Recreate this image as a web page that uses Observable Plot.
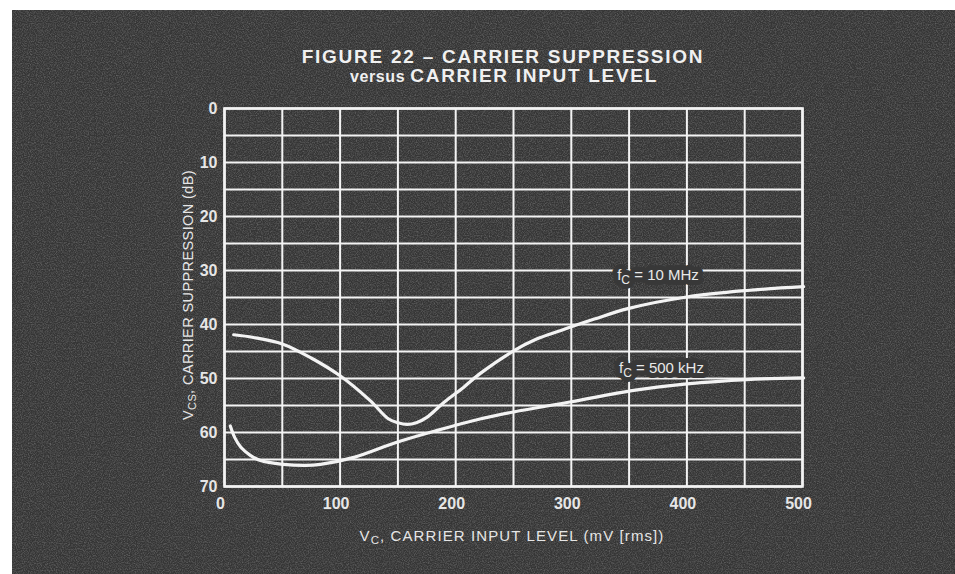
<!DOCTYPE html>
<html>
<head>
<meta charset="utf-8">
<script src="https://cdn.jsdelivr.net/npm/d3@7"></script>
<script src="https://cdn.jsdelivr.net/npm/@observablehq/plot@0.6"></script>
<style>
  html, body { margin: 0; padding: 0; background: #ffffff; }
  #chart { width: 955px; height: 574px; }
</style>
</head>
<body>
<div id="chart"></div>
<script>
// ---- data ----
const x10MHz = [8, 25, 50, 75, 100, 126, 142, 150, 158, 166, 175, 190, 207, 221, 250, 270, 291, 320, 348, 400, 452, 501];
const y10MHz = [41.9, 42.4, 43.6, 46.2, 49.5, 54.1, 57.5, 58.2, 58.5, 58.2, 57.2, 54.4, 51.6, 49.1, 44.9, 42.7, 41.1, 39.0, 37.1, 34.9, 33.7, 33.0];

const x500kHz = [5, 9, 14, 22, 31, 51, 70, 83, 112, 149, 184, 221, 250, 300, 354, 400, 452, 501];
const y500kHz = [58.8, 61.0, 62.7, 64.2, 65.2, 65.9, 66.1, 65.9, 64.6, 61.8, 59.6, 57.5, 56.2, 54.3, 52.2, 51.0, 50.2, 49.9];

const xTicks = [0, 100, 200, 300, 400, 500];
const yTicks = [0, 10, 20, 30, 40, 50, 60, 70];
const xGrid = [0, 50, 100, 150, 200, 250, 300, 350, 400, 450, 500];
const yGrid = [0, 5, 10, 15, 20, 25, 30, 35, 40, 45, 50, 55, 60, 65, 70];

const seriesLabels = [
  { x: 375, y: 30.8, main: "f", sub: "C", rest: " = 10 MHz" },
  { x: 378, y: 48.0, main: "f", sub: "C", rest: " = 500 kHz" }
];

const titleLine1 = "FIGURE 22 \u2013 CARRIER SUPPRESSION";
const titleLine2a = "versus ";
const titleLine2b = "CARRIER INPUT LEVEL";
const xLabelParts = ["V", "C", ", CARRIER INPUT LEVEL (mV [rms])"];
const yLabelParts = ["V", "CS", ", CARRIER SUPPRESSION (dB)"];

// ---- tables ----
const data10 = x10MHz.map((x, i) => ({ x, y: y10MHz[i] }));
const data500 = x500kHz.map((x, i) => ({ x, y: y500kHz[i] }));

const BG = "#383838";
const INK = "#f3f3f3";
const FONT = "'Liberation Sans', Arial, sans-serif";

const labelText = d => d.main + d.sub + d.rest;

const chart = Plot.plot({
  width: 955,
  height: 574,
  marginTop: 108,
  marginBottom: 88,
  marginLeft: 224,
  marginRight: 153,
  style: { background: "transparent", color: "#e6e6e6", fontFamily: FONT, fontSize: "15px" },
  x: { domain: [0, 500] },
  y: { domain: [0, 70], reverse: true },
  marks: [
    Plot.gridX(xGrid, { stroke: INK, strokeOpacity: 1, strokeWidth: 2 }),
    Plot.gridY(yGrid, { stroke: INK, strokeOpacity: 1, strokeWidth: 2 }),
    Plot.frame({ stroke: INK, strokeWidth: 2.6 }),
    Plot.line(data10, { x: "x", y: "y", curve: "catmull-rom", stroke: INK, strokeWidth: 3.2 }),
    Plot.line(data500, { x: "x", y: "y", curve: "catmull-rom", stroke: INK, strokeWidth: 3.2 }),
    Plot.text(seriesLabels, {
      x: "x", y: "y", text: labelText,
      fill: BG, stroke: BG, strokeWidth: 10, fontSize: 15,
      textAnchor: "middle", className: "series-halo"
    }),
    Plot.text(seriesLabels, {
      x: "x", y: "y", text: labelText,
      fill: "#e8e8e8", fontSize: 15,
      textAnchor: "middle", className: "series-label"
    }),
    Plot.axisX(xTicks, { tickSize: 0, tickPadding: 11, fontSize: 16, fontWeight: "bold", dx: -4, label: null, fill: "#e6e6e6" }),
    Plot.axisY(yTicks, { tickSize: 0, tickPadding: 7, fontSize: 16, fontWeight: "bold", label: null, fill: "#e6e6e6" })
  ]
});

document.getElementById("chart").appendChild(chart);

const svg = d3.select(chart);

// background panel with grain
const defs = svg.insert("defs", ":first-child");
const f = defs.append("filter").attr("id", "grain").attr("x", 0).attr("y", 0).attr("width", "100%").attr("height", "100%");
f.append("feTurbulence").attr("type", "fractalNoise").attr("baseFrequency", 0.85).attr("numOctaves", 2).attr("seed", 7);
f.append("feColorMatrix").attr("type", "matrix")
  .attr("values", "0 0 0 0 1  0 0 0 0 1  0 0 0 0 1  0.45 0 0 0 -0.17");
svg.insert("rect", "defs + *").attr("x", 12).attr("y", 10).attr("width", 943).attr("height", 564).attr("fill", "#353535");
svg.insert("rect", "rect + *").attr("x", 12).attr("y", 10).attr("width", 943).attr("height", 564).attr("filter", "url(#grain)");

// subscripts in series labels
function subscriptLabels(sel) {
  svg.selectAll(sel + " text").each(function (d, i) {
    const t = d3.select(this);
    const lab = seriesLabels[i];
    t.text(null);
    t.append("tspan").text(lab.main);
    t.append("tspan").attr("dy", 4).attr("font-size", 12).text(lab.sub);
    t.append("tspan").attr("dy", -4).text(lab.rest);
  });
}
subscriptLabels(".series-halo");
subscriptLabels(".series-label");

// titles
const title = svg.append("g").attr("font-family", FONT).attr("fill", "#f0f0f0").attr("font-weight", "bold").attr("text-anchor", "middle");
title.append("text").attr("x", 503).attr("y", 63).attr("font-size", 19).attr("letter-spacing", 1.75).text(titleLine1);
const t2 = title.append("text").attr("x", 504).attr("y", 82).attr("font-size", 19).attr("letter-spacing", 1.7);
t2.append("tspan").attr("font-size", 16).attr("letter-spacing", 0.6).text(titleLine2a);
t2.append("tspan").text(titleLine2b);

// x axis label
const xl = svg.append("text").attr("font-family", FONT).attr("fill", "#e6e6e6").attr("font-size", 15)
  .attr("text-anchor", "middle").attr("x", 512).attr("y", 541).attr("letter-spacing", 1.1);
xl.append("tspan").text(xLabelParts[0]);
xl.append("tspan").attr("dy", 3).attr("font-size", 11.5).text(xLabelParts[1]);
xl.append("tspan").attr("dy", -3).text(xLabelParts[2]);

// y axis label
const yl = svg.append("text").attr("font-family", FONT).attr("fill", "#e6e6e6").attr("font-size", 14.5)
  .attr("text-anchor", "middle").attr("transform", "translate(193,295) rotate(-90)").attr("letter-spacing", 0.4);
yl.append("tspan").text(yLabelParts[0]);
yl.append("tspan").attr("dy", 3).attr("font-size", 11).text(yLabelParts[1]);
yl.append("tspan").attr("dy", -3).text(yLabelParts[2]);
</script>
</body>
</html>
